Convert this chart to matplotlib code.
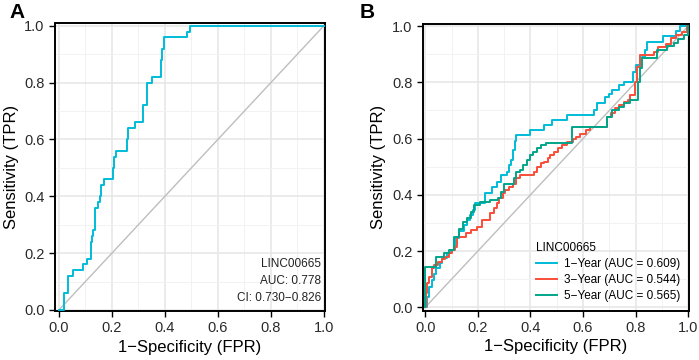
import matplotlib.pyplot as plt
from matplotlib.ticker import MultipleLocator

plt.rcParams['font.family'] = ['Liberation Sans', 'DejaVu Sans']

# Panel A: single ROC curve (step corners, fpr / tpr)
fpr_a = [0.0, 0.016, 0.02, 0.033, 0.054, 0.089, 0.107, 0.12, 0.125, 0.13, 0.135, 0.146,
         0.155, 0.16, 0.17, 0.203, 0.208, 0.217, 0.255, 0.26, 0.287, 0.316, 0.333,
         0.353, 0.387, 0.39, 0.395, 0.482, 0.494, 1.0]
tpr_a = [0.0, 0.0, 0.06, 0.12, 0.14, 0.16, 0.18, 0.24, 0.26, 0.28, 0.36, 0.38,
         0.40, 0.44, 0.46, 0.50, 0.54, 0.56, 0.60, 0.64, 0.66, 0.72, 0.80,
         0.82, 0.88, 0.92, 0.96, 0.98, 1.0, 1.0]
gene = "LINC00665"
auc_a = "AUC: 0.778"
ci_a = "CI: 0.730\u22120.826"

# Panel B: time dependent ROC curves
fpr_1y = [0.0, 0.006, 0.016, 0.025, 0.032, 0.042, 0.055, 0.063, 0.082, 0.095, 0.11, 0.114,
          0.13, 0.146, 0.16, 0.17, 0.18, 0.19, 0.228, 0.254, 0.273, 0.288, 0.311, 0.317,
          0.325, 0.334, 0.34, 0.346, 0.40, 0.45, 0.482, 0.539, 0.641, 0.653, 0.685, 0.70,
          0.71, 0.735, 0.755, 0.79, 0.80, 0.815, 0.825, 0.835, 0.845, 0.905, 0.955, 0.97, 1.0]
tpr_1y = [0.0, 0.038, 0.073, 0.097, 0.12, 0.138, 0.156, 0.174, 0.192, 0.204, 0.215, 0.245,
          0.27, 0.293, 0.31, 0.33, 0.345, 0.37, 0.405, 0.429, 0.447, 0.47, 0.482, 0.506,
          0.524, 0.56, 0.59, 0.613, 0.63, 0.648, 0.666, 0.683, 0.70, 0.725, 0.749, 0.76,
          0.772, 0.79, 0.802, 0.838, 0.86, 0.88, 0.89, 0.915, 0.945, 0.965, 0.983, 1.0, 1.0]

fpr_3y = [0.0, 0.003, 0.006, 0.016, 0.025, 0.035, 0.05, 0.063, 0.076, 0.089, 0.101, 0.114,
          0.12, 0.155, 0.175, 0.195, 0.215, 0.245, 0.262, 0.272, 0.28, 0.295, 0.305, 0.32,
          0.335, 0.345, 0.36, 0.412, 0.425, 0.44, 0.45, 0.465, 0.475, 0.49, 0.505, 0.52,
          0.54, 0.56, 0.575, 0.59, 0.61, 0.628, 0.692, 0.705, 0.72, 0.735, 0.755, 0.77,
          0.78, 0.796, 0.805, 0.815, 0.87, 0.885, 0.915, 0.935, 0.955, 0.975, 0.995, 1.0]
tpr_3y = [0.0, 0.05, 0.085, 0.109, 0.138, 0.15, 0.162, 0.17, 0.18, 0.192, 0.204, 0.215,
          0.251, 0.263, 0.275, 0.287, 0.31, 0.334, 0.352, 0.37, 0.387, 0.405, 0.417, 0.429,
          0.44, 0.459, 0.47, 0.482, 0.50, 0.512, 0.518, 0.53, 0.541, 0.553, 0.565, 0.577,
          0.589, 0.597, 0.605, 0.617, 0.63, 0.642, 0.678, 0.69, 0.707, 0.72, 0.731, 0.737,
          0.755, 0.80, 0.855, 0.897, 0.909, 0.926, 0.938, 0.956, 0.968, 0.98, 1.0, 1.0]

fpr_5y = [0.0, 0.0, 0.04, 0.07, 0.09, 0.108, 0.11, 0.127, 0.145, 0.16, 0.175, 0.184,
          0.209, 0.247, 0.275, 0.288, 0.30, 0.336, 0.345, 0.36, 0.37, 0.385, 0.40, 0.41,
          0.425, 0.44, 0.46, 0.558, 0.692, 0.71, 0.735, 0.755, 0.78, 0.81, 0.815, 0.825,
          0.882, 0.92, 0.945, 0.96, 0.983, 1.0]
tpr_5y = [0.0, 0.144, 0.18, 0.192, 0.204, 0.215, 0.251, 0.28, 0.304, 0.316, 0.34, 0.364,
          0.375, 0.381, 0.387, 0.411, 0.44, 0.459, 0.482, 0.488, 0.506, 0.524, 0.541, 0.553,
          0.565, 0.577, 0.583, 0.642, 0.678, 0.70, 0.713, 0.725, 0.737, 0.80, 0.85, 0.885,
          0.915, 0.93, 0.94, 0.955, 0.968, 1.0]

labels_b = ["1\u2212Year (AUC = 0.609)", "3\u2212Year (AUC = 0.544)", "5\u2212Year (AUC = 0.565)"]
colors_b = ["#00BCD8", "#FA4D3A", "#00A58A"]


def style_axes(ax, xlim, ylim):
    ax.set_xlim(*xlim)
    ax.set_ylim(*ylim)
    ax.xaxis.set_major_locator(MultipleLocator(0.2))
    ax.yaxis.set_major_locator(MultipleLocator(0.2))
    ax.xaxis.set_minor_locator(MultipleLocator(0.1))
    ax.yaxis.set_minor_locator(MultipleLocator(0.1))
    ax.xaxis.set_major_formatter(lambda v, p: f"{v:.1f}")
    ax.yaxis.set_major_formatter(lambda v, p: f"{v:.1f}")
    ax.grid(which='major', color='#E6E6E6', linewidth=1.1)
    ax.grid(which='minor', color='#F2F2F2', linewidth=0.7)
    ax.set_axisbelow(True)
    ax.tick_params(which='major', direction='out', length=4, width=1.0,
                   color='black', labelsize=10.5, labelcolor='#2a2a2a')
    ax.tick_params(which='minor', length=0)
    for s in ax.spines.values():
        s.set_linewidth(1.4)
        s.set_color('black')
    ax.set_xlabel('1\u2212Specificity (FPR)', fontsize=12, labelpad=3)
    ax.set_ylabel('Sensitivity (TPR)', fontsize=12, labelpad=4)
    ax.plot([0, 1], [0, 1], color='#BEBEBE', linewidth=1.0, zorder=1)


fig = plt.figure(figsize=(6.99, 3.6), dpi=100)

# Panel A
ax1 = fig.add_axes([0.0787, 0.136, 0.386, 0.800])
style_axes(ax1, (-0.015, 1.004), (-0.004, 1.01))
ax1.plot(fpr_a, tpr_a, drawstyle='steps-post', color='#00BCD8', linewidth=1.4, zorder=3)
ax1.text(0.985, 0.165, gene, ha='right', va='center', fontsize=8.5, color='#222222',
         transform=ax1.transAxes)
ax1.text(0.985, 0.103, auc_a, ha='right', va='center', fontsize=8.5, color='#222222',
         transform=ax1.transAxes)
ax1.text(0.985, 0.045, ci_a, ha='right', va='center', fontsize=8.5, color='#222222',
         transform=ax1.transAxes)

# Panel B
ax2 = fig.add_axes([0.605, 0.137, 0.380, 0.796])
style_axes(ax2, (-0.009, 1.001), (-0.012, 1.007))
series_b = [(fpr_1y, tpr_1y), (fpr_3y, tpr_3y), (fpr_5y, tpr_5y)]
for (fx, ty), lab, col in zip(series_b, labels_b, colors_b):
    ax2.plot(fx, ty, drawstyle='steps-post', color=col, linewidth=1.4, label=lab, zorder=3)
leg = ax2.legend(title=gene, loc='lower right', bbox_to_anchor=(1.0, 0.0),
                 fontsize=8.5, title_fontsize=8.5, frameon=False, handlelength=1.8,
                 handletextpad=0.6, labelspacing=0.35, borderaxespad=0.3)
leg._legend_box.align = 'left'

fig.text(0.013, 0.965, 'A', fontsize=15, fontweight='bold', va='center')
fig.text(0.515, 0.965, 'B', fontsize=15, fontweight='bold', va='center')

fig.savefig('out.png', dpi=100)
